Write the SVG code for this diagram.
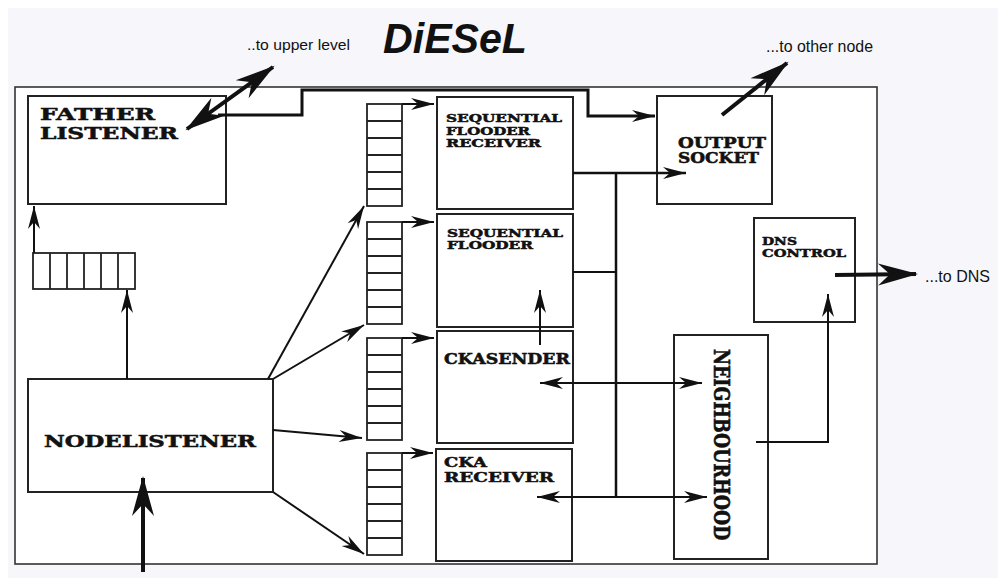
<svg xmlns="http://www.w3.org/2000/svg" width="998" height="579" viewBox="0 0 998 579">
<style>
.box{fill:#fff;stroke:#222;stroke-width:2}
.q{fill:#fff;stroke:#222;stroke-width:1.8}
.ql{stroke:#222;stroke-width:1.8}
.ln{stroke:#111;stroke-width:2;fill:none}
.tk{stroke:#111;stroke-width:4;fill:none}
.lb{font-family:"DejaVu Serif","Liberation Serif",serif;font-weight:bold;fill:#111;stroke:#111;stroke-width:0.5}
.sans{font-family:"Liberation Sans",Arial,sans-serif;fill:#111}
</style>
<defs>
<marker id="a" viewBox="-25 -10 30 20" markerWidth="30" markerHeight="20" refX="0" refY="0" markerUnits="userSpaceOnUse" orient="auto-start-reverse" overflow="visible">
<path d="M0,0 L-23,-6 L-16,0 L-23,6 Z" fill="#111"/>
</marker>
<marker id="b" viewBox="-45 -15 50 30" markerWidth="50" markerHeight="30" refX="-2" refY="0" markerUnits="userSpaceOnUse" orient="auto-start-reverse" overflow="visible">
<path d="M0,0 L-40,-11 L-28,0 L-40,11 Z" fill="#111"/>
</marker>
</defs>
<rect x="0" y="0" width="998" height="579" fill="#fff"/>
<rect x="8" y="8" width="990" height="570" fill="#f6f6fb"/>
<rect id="main" x="15" y="87" width="862" height="477" fill="#fff" stroke="#333" stroke-width="1.6"/>

<text class="sans" x="383" y="53" font-size="42" font-weight="bold" font-style="italic" textLength="144" lengthAdjust="spacingAndGlyphs">DiESeL</text>
<text class="sans" x="247" y="50" font-size="15" textLength="103" lengthAdjust="spacingAndGlyphs">..to upper level</text>
<text class="sans" x="766" y="52" font-size="16" textLength="107" lengthAdjust="spacingAndGlyphs">...to other node</text>
<text class="sans" x="925" y="282" font-size="17" textLength="65" lengthAdjust="spacingAndGlyphs">...to DNS</text>

<g id="father-listener">
<rect class="box" x="28" y="96" width="198" height="108"/>
<text class="lb" x="40" y="120" font-size="16" textLength="115" lengthAdjust="spacingAndGlyphs">FATHER</text>
<text class="lb" x="40" y="139" font-size="16" textLength="138" lengthAdjust="spacingAndGlyphs">LISTENER</text>
</g>

<g id="queue-father">
<rect class="q" x="33" y="253" width="102" height="36"/>
<path class="ql" d="M50,253V289M67,253V289M84,253V289M101,253V289M118,253V289"/>
</g>

<g id="nodelistener">
<rect class="box" x="28" y="379" width="245" height="113"/>
<text class="lb" x="44" y="447" font-size="16" textLength="212" lengthAdjust="spacingAndGlyphs">NODELISTENER</text>
</g>

<g id="queue1">
<rect class="q" x="367" y="104" width="35" height="102"/>
<path class="ql" d="M367,121H402M367,138H402M367,155H402M367,172H402M367,189H402"/>
</g>
<g id="queue2">
<rect class="q" x="367" y="222" width="35" height="102"/>
<path class="ql" d="M367,239H402M367,256H402M367,273H402M367,290H402M367,307H402"/>
</g>
<g id="queue3">
<rect class="q" x="367" y="338" width="35" height="102"/>
<path class="ql" d="M367,355H402M367,372H402M367,389H402M367,406H402M367,423H402"/>
</g>
<g id="queue4">
<rect class="q" x="367" y="453" width="35" height="102"/>
<path class="ql" d="M367,470H402M367,487H402M367,504H402M367,521H402M367,538H402"/>
</g>

<g id="seq-flooder-receiver">
<rect class="box" x="437" y="97" width="136" height="112"/>
<text class="lb" x="446" y="122" font-size="11" textLength="116" lengthAdjust="spacingAndGlyphs">SEQUENTIAL</text>
<text class="lb" x="446" y="134.5" font-size="11" textLength="84" lengthAdjust="spacingAndGlyphs">FLOODER</text>
<text class="lb" x="446" y="147" font-size="11" textLength="95" lengthAdjust="spacingAndGlyphs">RECEIVER</text>
</g>

<g id="seq-flooder">
<rect class="box" x="437" y="214" width="136" height="113"/>
<text class="lb" x="447" y="237" font-size="11" textLength="116" lengthAdjust="spacingAndGlyphs">SEQUENTIAL</text>
<text class="lb" x="447" y="249" font-size="11" textLength="86" lengthAdjust="spacingAndGlyphs">FLOODER</text>
</g>

<g id="ckasender">
<rect class="box" x="437" y="331" width="136" height="112"/>
<text class="lb" x="444" y="364" font-size="14" textLength="126" lengthAdjust="spacingAndGlyphs">CKASENDER</text>
</g>

<g id="cka-receiver">
<rect class="box" x="436" y="449" width="136" height="112"/>
<text class="lb" x="444" y="467" font-size="13" textLength="43" lengthAdjust="spacingAndGlyphs">CKA</text>
<text class="lb" x="444" y="482" font-size="13" textLength="110" lengthAdjust="spacingAndGlyphs">RECEIVER</text>
</g>

<g id="output-socket">
<rect class="box" x="657" y="96" width="115" height="108"/>
<text class="lb" x="678" y="148" font-size="14" textLength="88" lengthAdjust="spacingAndGlyphs">OUTPUT</text>
<text class="lb" x="678" y="163" font-size="14" textLength="81" lengthAdjust="spacingAndGlyphs">SOCKET</text>
</g>

<g id="dns-control">
<rect class="box" x="754" y="218" width="101" height="104"/>
<text class="lb" x="762" y="245" font-size="11" textLength="35" lengthAdjust="spacingAndGlyphs">DNS</text>
<text class="lb" x="762" y="257" font-size="11" textLength="84" lengthAdjust="spacingAndGlyphs">CONTROL</text>
</g>

<g id="neighbourhood">
<rect class="box" x="674" y="335" width="94" height="224"/>
<text class="lb" transform="translate(714,349) scale(1.27,1)" x="0" y="0" font-size="17.5" style="writing-mode:vertical-rl;text-orientation:sideways">NEIGHBOURHOOD</text>
</g>

<g id="connectors">
<path class="tk" d="M187,129 L273,67" marker-start="url(#b)" marker-end="url(#b)"/>
<path class="tk" d="M722,115 L787,63" marker-end="url(#b)"/>
<path class="tk" d="M835,275 L916,274" marker-end="url(#b)"/>
<path class="tk" d="M143,572 L143,478" marker-end="url(#b)"/>
<path class="ln" style="stroke-width:3" d="M218,115 H302 V90 H588 V116 H655" marker-end="url(#a)"/>
<path class="ln" d="M34,253 V206" marker-end="url(#a)"/>
<path class="ln" d="M127,379 V290" marker-end="url(#a)"/>
<path class="ln" d="M268,379 L364,206" marker-end="url(#a)"/>
<path class="ln" d="M273,379 L364,325" marker-end="url(#a)"/>
<path class="ln" d="M273,430 L362,438" marker-end="url(#a)"/>
<path class="ln" d="M273,492 L364,554" marker-end="url(#a)"/>
<path class="ln" d="M402,104 H434" marker-end="url(#a)"/>
<path class="ln" d="M402,222 H434" marker-end="url(#a)"/>
<path class="ln" d="M402,338 H434" marker-end="url(#a)"/>
<path class="ln" d="M402,453 H433" marker-end="url(#a)"/>
<path class="ln" style="stroke-width:2.5" d="M573,173 H686" marker-end="url(#a)"/>
<path class="ln" style="stroke-width:2.5" d="M616,173 V497"/>
<path class="ln" d="M573,272 H616"/>
<path class="ln" d="M540,345 V290" marker-end="url(#a)"/>
<path class="ln" d="M540,383 H702" marker-start="url(#a)" marker-end="url(#a)"/>
<path class="ln" d="M537,497 H707" marker-start="url(#a)" marker-end="url(#a)"/>
<path class="ln" d="M756,442 H828 V294" marker-end="url(#a)"/>
</g>
</svg>
